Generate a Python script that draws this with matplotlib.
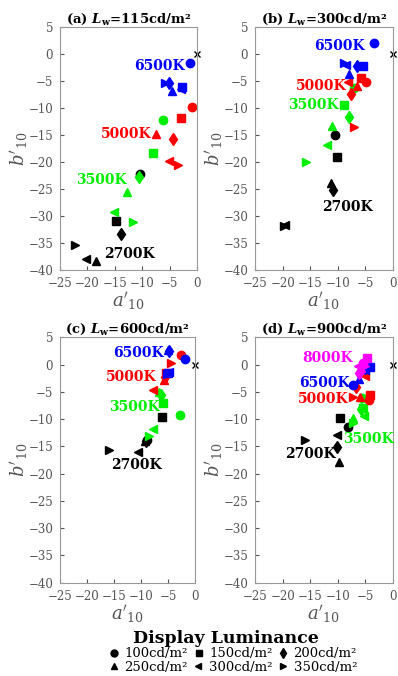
import matplotlib.pyplot as plt
from matplotlib.lines import Line2D

plt.rcParams['font.family'] = ['DejaVu Serif']
plt.rcParams['mathtext.fontset'] = 'dejavuserif'

# display luminance levels -> markers
levels = ["100cd/m²", "150cd/m²", "200cd/m²", "250cd/m²", "300cd/m²", "350cd/m²"]
markers = ["o", "s", "d", "^", "<", ">"]

cct_colors = {"2700K": "black", "3500K": "#00ee00", "5000K": "red", "6500K": "blue", "8000K": "magenta"}

# (a) Lw = 115 cd/m2, points ordered as levels
a115 = {
    "2700K": [-10.5, -14.8, -13.8, -18.5, -20.3, -22.3],
    "3500K": [-6.2, -8.1, -10.6, -12.8, -15.2, -11.6],
    "5000K": [-1.0, -3.0, -4.4, -7.5, -5.2, -3.5],
    "6500K": [-1.2, -2.8, -5.2, -4.6, -3.0, -5.9],
}
b115 = {
    "2700K": [-22.3, -30.9, -33.4, -38.3, -38.1, -35.4],
    "3500K": [-12.3, -18.4, -22.8, -25.5, -29.3, -31.1],
    "5000K": [-9.9, -11.8, -15.7, -14.9, -19.8, -20.6],
    "6500K": [-1.6, -6.2, -5.3, -6.8, -6.5, -5.3],
}

# (b) Lw = 300 cd/m2
a300 = {
    "2700K": [-10.5, -10.2, -10.8, -11.2, -19.5, -19.8],
    "3500K": [-7.0, -8.8, -7.9, -11.1, -12.0, -15.7],
    "5000K": [-4.8, -5.8, -7.6, -6.5, -8.1, -7.0],
    "6500K": [-3.4, -5.4, -6.5, -7.9, -8.5, -8.9],
}
b300 = {
    "2700K": [-15.1, -19.1, -25.2, -23.9, -31.7, -31.9],
    "3500K": [-6.3, -9.4, -11.7, -13.4, -16.8, -20.0],
    "5000K": [-5.1, -4.5, -7.5, -5.9, -5.2, -13.6],
    "6500K": [2.0, -2.3, -2.3, -3.8, -2.0, -1.6],
}

# (c) Lw = 600 cd/m2
a600 = {
    "2700K": [-9.0, -6.1, -9.2, -9.3, -10.6, -16.0],
    "3500K": [-2.9, -6.0, -6.4, -6.7, -7.8, -8.5],
    "5000K": [-2.6, -5.5, -5.6, -5.8, -7.8, -4.5],
    "6500K": [-2.0, -5.1, -4.9, -5.0, -4.8, -5.2],
}
b600 = {
    "2700K": [-13.8, -9.7, -14.1, -14.0, -16.0, -15.6],
    "3500K": [-9.2, -7.1, -5.6, -5.1, -11.8, -13.1],
    "5000K": [1.8, -1.6, -2.3, -2.8, -4.7, 0.2],
    "6500K": [1.0, -1.5, 2.5, 2.7, -1.3, -1.8],
}

# (d) Lw = 900 cd/m2
a900 = {
    "2700K": [-8.1, -9.5, -10.2, -9.7, -10.1, -15.9],
    "3500K": [-5.6, -5.4, -5.8, -7.3, -5.2, -7.2],
    "5000K": [-4.4, -4.1, -6.6, -5.9, -5.0, -7.3],
    "6500K": [-7.3, -4.1, -5.0, -6.2, -5.0, -5.4],
    "8000K": [-5.4, -4.6, -6.2, -5.8, -6.3, -5.0],
}
b900 = {
    "2700K": [-11.5, -9.8, -15.2, -17.8, -12.9, -13.8],
    "3500K": [-6.2, -8.0, -8.2, -9.8, -9.4, -10.7],
    "5000K": [-6.5, -5.6, -4.2, -6.0, -2.1, -6.0],
    "6500K": [-3.7, -0.4, -0.7, -2.7, -1.0, -1.2],
    "8000K": [0.2, 1.2, -1.5, -0.6, -0.3, -0.2],
}

# CCT label placement per panel: (x, y, horizontal alignment)
labels115 = {"6500K": (-2.3, -2.2, "right"), "5000K": (-8.3, -14.8, "right"),
             "3500K": (-12.8, -23.4, "right"), "2700K": (-16.9, -37.1, "left")}
labels300 = {"6500K": (-5.0, 1.5, "right"), "5000K": (-8.3, -5.9, "right"),
             "3500K": (-9.8, -9.4, "right"), "2700K": (-12.8, -28.4, "left")}
labels600 = {"6500K": (-5.8, 2.2, "right"), "5000K": (-7.2, -2.2, "right"),
             "3500K": (-6.6, -7.7, "right"), "2700K": (-15.5, -18.4, "left")}
labels900 = {"8000K": (-7.2, 1.2, "right"), "6500K": (-7.8, -3.4, "right"),
             "5000K": (-8.1, -6.4, "right"), "3500K": (-9.0, -13.7, "left"),
             "2700K": (-10.3, -16.4, "right")}

panels = [
    ("(a)", "115", a115, b115, labels115, [0.151, 0.601, 0.344, 0.359]),
    ("(b)", "300", a300, b300, labels300, [0.641, 0.601, 0.346, 0.359]),
    ("(c)", "600", a600, b600, labels600, [0.151, 0.138, 0.340, 0.363]),
    ("(d)", "900", a900, b900, labels900, [0.641, 0.138, 0.346, 0.363]),
]

gray = "#555555"
fig = plt.figure(figsize=(3.98, 6.76), dpi=100)

for tag, lw, xs, ys, labs, rect in panels:
    ax = fig.add_axes(rect)
    for cct in xs:
        for i, m in enumerate(markers):
            ax.plot(xs[cct][i], ys[cct][i], marker=m, color=cct_colors[cct],
                    markersize=6, linestyle="none")
    for cct, (lx, ly, ha) in labs.items():
        ax.text(lx, ly, cct, color=cct_colors[cct], fontsize=10, fontweight="bold",
                ha=ha, va="center")
    ax.plot(0, 0, marker="x", color="black", markersize=4, clip_on=False)
    ax.set_xlim(-25, 0)
    ax.set_ylim(-40, 5)
    ax.set_xticks(range(-25, 1, 5))
    ax.set_yticks(range(-40, 6, 5))
    ax.tick_params(labelsize=8.5, colors=gray, direction="in", length=3, pad=5)
    for s in ax.spines.values():
        s.set_color("#999999")
    ax.set_xlabel(r"$a'_{10}$", fontsize=13, color=gray, labelpad=0)
    ax.set_ylabel(r"$b'_{10}$", fontsize=13, color=gray, labelpad=-1)
    ax.set_title(tag + r" $\mathbfit{L}_{\mathbf{w}}$=" + lw + "cd/m²",
                 fontsize=9.5, fontweight="bold", pad=3)

# legend: bold title and two rows of three entries
fig.text(0.568, 0.056, "Display Luminance", fontsize=12.5, fontweight="bold",
         ha="center", va="center")
handles = [Line2D([], [], marker=m, color="black", linestyle="none", markersize=5)
           for m in markers]
for row, yc in [(0, 0.033), (1, 0.013)]:
    idx = range(row * 3, row * 3 + 3)
    fig.legend([handles[i] for i in idx], [levels[i] for i in idx],
               loc="center", bbox_to_anchor=(0.585, yc), ncol=3, frameon=False,
               fontsize=9.5, handlelength=0.8, handletextpad=0.4, columnspacing=0.4,
               borderpad=0.0, borderaxespad=0.0)

fig.savefig("out.png", dpi=100)
